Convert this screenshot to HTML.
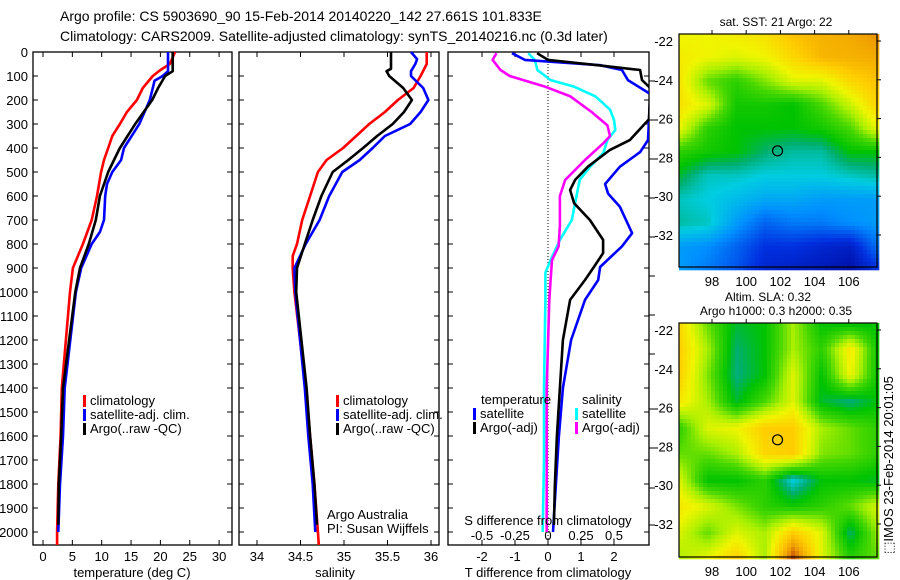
<!DOCTYPE html>
<html><head><meta charset="utf-8"><style>
html,body{margin:0;padding:0;background:#fff;}
svg{display:block;font-family:"Liberation Sans",sans-serif;}
</style></head><body>
<svg id="fig" width="900" height="580" viewBox="0 0 900 580" xmlns="http://www.w3.org/2000/svg">
<rect width="900" height="580" fill="#fff"/>
<text x="60" y="21" font-size="14">Argo profile: CS 5903690_90 15-Feb-2014 20140220_142 27.661S 101.833E</text>
<text x="60" y="41" font-size="14">Climatology: CARS2009. Satellite-adjusted climatology: synTS_20140216.nc (0.3d later)</text>
<g id="g"></g>
</svg>
<script>
// ---------- data ----------
const depthTicks=[0,100,200,300,400,500,600,700,800,900,1000,1100,1200,1300,1400,1500,1600,1700,1800,1900,2000];
const tempTicks=[0,5,10,15,20,25,30];
const salTicks=[34,34.5,35,35.5,36];
const tdiffTicks=[-2,-1,0,1,2];
const sdiffTicks=[-0.5,-0.25,0,0.25,0.5];
const sdiffTickLabels=["-0.5","-0.25","0","0.25","0.5"];

const tClimD=[0,50,75,100,150,200,250,300,350,400,450,500,600,700,800,900,1000,1400,1500,1600,1800,2000,2054];
const tClimV=[22.5,21.6,20,18.7,17,16,14.3,13.1,11.8,11.1,10.4,9.9,9.2,8.3,6.8,5.1,4.6,3.2,3.1,3.0,2.6,2.4,2.4];
const tSatD=[0,80,100,120,150,200,300,400,450,500,550,600,700,750,800,900,1000,1400,1600,1800,2000];
const tSatV=[21.3,21.3,20.4,19,18.7,18.2,16.4,13.8,13.3,11.8,10.9,10.6,10.4,9.7,8.3,6.5,5.6,3.7,3.4,2.9,2.6];
const tArgoD=[0,80,100,150,200,300,400,450,500,600,700,800,900,1000,1400,1600,1800,1970];
const tArgoV=[22.1,22.1,20.8,19.6,18.6,15.7,13.1,12.1,11.1,9.7,9,7.8,6.3,5.5,3.4,3.1,2.7,2.6];

const sClimD=[0,50,100,150,200,250,300,350,400,450,500,600,700,800,850,900,1000,1400,1600,1800,2000,2054];
const sClimV=[35.95,35.95,35.88,35.8,35.62,35.47,35.29,35.14,34.99,34.8,34.7,34.61,34.52,34.46,34.41,34.41,34.43,34.56,34.61,34.66,34.7,34.71];
const sSatD=[0,30,50,80,100,150,200,250,300,350,400,450,500,600,700,800,900,1000,1400,1600,1800,2000];
const sSatV=[35.77,35.84,35.82,35.77,35.77,35.91,35.97,35.88,35.76,35.47,35.33,35.18,34.98,34.83,34.72,34.56,34.43,34.44,34.55,34.59,34.64,34.67];
const sArgoD=[0,70,80,100,150,200,250,300,350,400,450,500,600,700,800,900,1000,1400,1600,1800,1970];
const sArgoV=[35.54,35.54,35.49,35.52,35.68,35.78,35.69,35.56,35.38,35.22,35.05,34.87,34.74,34.64,34.55,34.46,34.45,34.57,34.61,34.66,34.69];

const dTSatD=[5,33,55,75,117,175,367,417,478,550,590,645,755,810,896,950,1033,1200,1400,1600,1800,2000];
const dTSatV=[-1.09,-0.7,1.58,2.24,2.42,3.1,3.03,2.79,2.18,1.73,1.82,2.18,2.55,2.24,1.58,1.52,1.12,0.7,0.45,0.33,0.24,0.15];
const dTArgoD=[5,33,55,75,117,150,280,367,408,478,533,575,630,700,783,838,896,950,1033,1200,1400,1600,1800,1970];
const dTArgoV=[-0.33,0,1.5,2.79,2.85,3.1,3.06,2.48,1.88,1.21,0.82,0.67,0.79,1.27,1.67,1.67,1.39,1.12,0.67,0.45,0.36,0.27,0.21,0.18];
const dSSatD=[5,33,75,117,145,185,240,283,325,367,420,478,533,617,700,783,867,920,1033,1400,1700,2000];
const dSSatV=[-0.15,-0.1,-0.08,0.02,0.2,0.36,0.47,0.5,0.51,0.45,0.42,0.32,0.24,0.21,0.18,0.09,0.02,-0.02,-0.02,-0.03,-0.03,-0.04];
const dSArgoD=[5,33,75,100,145,185,250,306,350,380,450,533,600,725,810,867,950,1033,1400,1700,2000];
const dSArgoV=[-0.39,-0.42,-0.36,-0.29,-0.02,0.17,0.33,0.45,0.47,0.42,0.28,0.13,0.09,0.09,0.08,0.03,0.02,0.01,-0.01,-0.01,-0.01];

// coarse map fields (colormap index 0..1), rows north->south
const sstGrid=[
[0.72,0.72,0.74,0.76,0.82,0.85,0.86,0.9],
[0.74,0.72,0.70,0.72,0.78,0.84,0.85,0.86],
[0.76,0.60,0.55,0.62,0.70,0.70,0.78,0.82],
[0.76,0.70,0.52,0.52,0.50,0.58,0.68,0.80],
[0.72,0.55,0.50,0.50,0.50,0.52,0.58,0.72],
[0.55,0.52,0.50,0.45,0.42,0.42,0.50,0.50],
[0.48,0.40,0.40,0.38,0.38,0.38,0.40,0.42],
[0.40,0.38,0.35,0.32,0.32,0.30,0.30,0.30],
[0.42,0.40,0.30,0.22,0.25,0.25,0.28,0.30],
[0.30,0.28,0.22,0.15,0.15,0.12,0.10,0.25],
[0.30,0.25,0.20,0.12,0.10,0.08,0.05,0.15]];
const slaGrid=[
[0.78,0.60,0.48,0.50,0.65,0.50,0.48,0.50],
[0.80,0.65,0.45,0.50,0.65,0.55,0.75,0.50],
[0.80,0.62,0.44,0.50,0.70,0.50,0.72,0.50],
[0.75,0.65,0.48,0.58,0.70,0.48,0.44,0.50],
[0.55,0.70,0.72,0.80,0.80,0.65,0.60,0.55],
[0.60,0.60,0.65,0.78,0.80,0.62,0.60,0.55],
[0.70,0.50,0.50,0.55,0.38,0.50,0.50,0.48],
[0.75,0.70,0.62,0.55,0.52,0.55,0.60,0.70],
[0.70,0.60,0.70,0.65,0.80,0.70,0.45,0.65],
[0.65,0.72,0.80,0.65,0.98,0.70,0.55,0.60]];
const lonTicks=[98,100,102,104,106];
const latTicks=[-22,-24,-26,-28,-30,-32];
const argoLon=101.833, argoLat=-27.661;

// ---------- drawing ----------
const NS="http://www.w3.org/2000/svg";
const G=document.getElementById('g');
function mk(tag,attrs,parent){const e=document.createElementNS(NS,tag);for(const k in attrs)e.setAttribute(k,attrs[k]);(parent||G).appendChild(e);return e;}
function txt(x,y,s,size,anchor,parent){const t=mk('text',{x:x,y:y,'font-size':size||13,'text-anchor':anchor||'start'},parent);t.textContent=s;return t;}

const Y0=52,Y1=545;
const yD=d=>Y0+0.24*d;
const xT=v=>43+5.87*v;
const xS=v=>257+87*(v-34);
const xDT=v=>548+33*v;
const xDS=v=>548+132*v;

const defs=mk('defs',{});
const cp=mk('clipPath',{id:'clip3'},defs);
mk('rect',{x:448,y:Y0,width:201,height:Y1-Y0},cp);

function frame(x0,x1,name){
  const r=mk('rect',{x:x0,y:Y0,width:x1-x0,height:Y1-Y0,fill:'none',stroke:'#000','stroke-width':1.3});
  
  
  depthTicks.forEach(d=>{
    mk('line',{x1:x0,x2:x0+5,y1:yD(d),y2:yD(d),stroke:'#000'});
    mk('line',{x1:x1-5,x2:x1,y1:yD(d),y2:yD(d),stroke:'#000'});
  });
}
function xticks(ticks,fx,labels,ly){
  ticks.forEach((v,i)=>{
    const x=fx(v);
    mk('line',{x1:x,x2:x,y1:Y0,y2:Y0+5,stroke:'#000'});
    mk('line',{x1:x,x2:x,y1:Y1-5,y2:Y1,stroke:'#000'});
    const t=txt(x,ly,labels?labels[i]:String(v),13,'middle');
    
    
  });
}
function line(D,V,fx,color,name,clip){
  const pts=D.map((d,i)=>fx(V[i]).toFixed(1)+','+yD(d).toFixed(1)).join(' ');
  const a={points:pts,fill:'none',stroke:color,'stroke-width':2.6,'stroke-linejoin':'round'};
  if(clip)a['clip-path']='url(#clip3)';
  const p=mk('polyline',a);
  
  
}

// depth labels
depthTicks.forEach(d=>{const t=txt(28,yD(d)+5,String(d),13,'end');
  
  });

// panel 1
frame(33,232,'temperature-panel');
xticks(tempTicks,xT,null,561);
line(tClimD,tClimV,xT,'#f00','temp-climatology-line');
line(tSatD,tSatV,xT,'#00f','temp-satellite-line');
line(tArgoD,tArgoV,xT,'#000','temp-argo-line');
let t=txt(132,577,'temperature (deg C)',13,'middle');


// panel 2
frame(239,439,'salinity-panel');
xticks(salTicks,xS,null,561);
line(sClimD,sClimV,xS,'#f00','sal-climatology-line');
line(sSatD,sSatV,xS,'#00f','sal-satellite-line');
line(sArgoD,sArgoV,xS,'#000','sal-argo-line');
t=txt(335,577,'salinity',13,'middle');

t=txt(327,519,'Argo Australia',13);

t=txt(327,533,'PI: Susan Wijffels',13);


// legends panels 1,2
function legend(mx,y0,items,name){
  items.forEach((it,i)=>{
    const y=y0+i*14;
    const r=mk('rect',{x:mx,y:y-10,width:3,height:12,fill:it[0]});
    
    const tt=txt(mx+7,y,it[1],13);
    
  });
}
legend(83,405,[['#f00','climatology'],['#00f','satellite-adj. clim.'],['#000','Argo(..raw -QC)']],'temp-legend');
legend(336,405,[['#f00','climatology'],['#00f','satellite-adj. clim.'],['#000','Argo(..raw -QC)']],'sal-legend');

// panel 3
frame(448,649,'difference-panel');
mk('line',{x1:548,x2:548,y1:Y0,y2:Y1,stroke:'#000','stroke-dasharray':'1,2'});
tdiffTicks.forEach(v=>{const x=xDT(v);
  mk('line',{x1:x,x2:x,y1:Y1-5,y2:Y1,stroke:'#000'});
  mk('line',{x1:x,x2:x,y1:Y0,y2:Y0+5,stroke:'#000'});
  const tt=txt(x,561,String(v),13,'middle');});
sdiffTicks.forEach((v,i)=>{const tt=txt(xDS(v),540,sdiffTickLabels[i],13,'middle');
  });
[81,120,159,198,237,276,315,354,409,448,488,525].forEach(y=>mk('line',{x1:649,x2:655,y1:y,y2:y,stroke:'#000'}));
line(dSSatD,dSSatV,xDS,'#0ff','sdiff-satellite-line',true);
line(dSArgoD,dSArgoV,xDS,'#f0f','sdiff-argo-line',true);
line(dTSatD,dTSatV,xDT,'#00f','tdiff-satellite-line',true);
line(dTArgoD,dTArgoV,xDT,'#000','tdiff-argo-line',true);
t=txt(548,525,'S difference from climatology',13,'middle');

t=txt(548,577,'T difference from climatology',13,'middle');

t=txt(481,404,'temperature',13);
t=txt(582,404,'salinity',13);
legend(473,418,[['#00f','satellite'],['#000','Argo(-adj)']],'tdiff-legend');
legend(575,418,[['#0ff','satellite'],['#f0f','Argo(-adj)']],'sdiff-legend');

// ---------- maps ----------
const cmapStops=[[0,[0,0,140]],[0.15,[0,48,224]],[0.28,[0,144,255]],[0.38,[0,205,225]],[0.45,[0,175,110]],[0.5,[0,195,0]],[0.58,[70,215,0]],[0.65,[170,240,0]],[0.72,[240,245,0]],[0.8,[255,205,0]],[0.88,[240,160,0]],[0.95,[205,95,0]],[1,[160,40,0]]];
function cmap(v){v=Math.max(0,Math.min(1,v));
  for(let i=1;i<cmapStops.length;i++){if(v<=cmapStops[i][0]){const a=cmapStops[i-1],b=cmapStops[i];const f=(v-a[0])/(b[0]-a[0]);
    return 'rgb('+a[1].map((c,k)=>Math.round(c+(b[1][k]-c)*f)).join(',')+')';}}
  return 'rgb(160,40,0)';}
function sample(grid,u,w){ // u,w in 0..1
  const R=grid.length-1,C=grid[0].length-1;
  const fy=w*R,fx=u*C;const r=Math.min(R-1,Math.floor(fy)),c=Math.min(C-1,Math.floor(fx));
  const a=fy-r,b=fx-c;
  return grid[r][c]*(1-a)*(1-b)+grid[r][c+1]*(1-a)*b+grid[r+1][c]*a*(1-b)+grid[r+1][c+1]*a*b;}
const MX0=679,MX1=877;
const xLon=l=>712+17.1*(l-98);
function drawMap(grid,top,bot,cell,name,title1,title2){
  const latY=la=>top+7+19.4*(-22-la);
  const gg=mk('g',{});
  
  
  const nx=Math.ceil((MX1-MX0)/cell),ny=Math.ceil((bot-top)/cell);
  for(let j=0;j<ny;j++)for(let i=0;i<nx;i++){
    const v=sample(grid,(i+0.5)/nx,(j+0.5)/ny);
    mk('rect',{x:MX0+i*cell,y:top+j*cell,width:cell+0.3,height:cell+0.3,fill:cmap(v)},gg);
  }
  mk('rect',{x:MX0,y:top,width:MX1-MX0,height:bot-top,fill:'none',stroke:'#000','stroke-width':1.2});
  lonTicks.forEach(l=>{const x=xLon(l);mk('line',{x1:x,x2:x,y1:top-4,y2:top,stroke:'#000'});
    const tt=txt(x,bot+19,String(l),13,'middle');});
  latTicks.forEach(la=>{const y=latY(la);mk('line',{x1:MX1,x2:MX1+4,y1:y,y2:y,stroke:'#000'});
    const tt=txt(673,y+5,String(la),13,'end');});
  const c=mk('circle',{cx:xLon(argoLon),cy:latY(argoLat),r:5,fill:'none',stroke:'#000','stroke-width':1.2});
  
}
drawMap(sstGrid,34,267,4,'sst-map');
drawMap(slaGrid,323,557,4,'sla-map');
t=txt(776,26,'sat. SST: 21 Argo: 22',12,'middle');
t=txt(768,301,'Altim. SLA: 0.32',12,'middle');
t=txt(776,315,'Argo h1000: 0.3 h2000: 0.35',12,'middle');
t=mk('text',{x:0,y:0,'font-size':13,'text-anchor':'middle',transform:'translate(893,465) rotate(-90)'});
t.textContent='\u2b1aIMOS 23-Feb-2014 20:01:05';

</script>
</body></html>
